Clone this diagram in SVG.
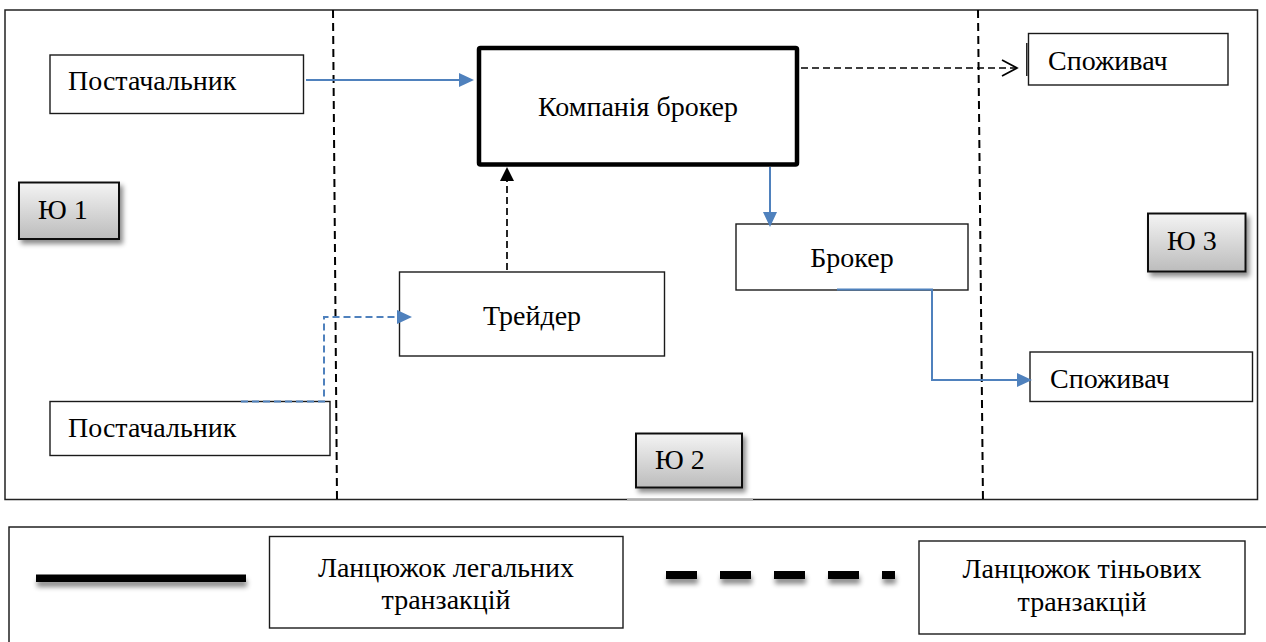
<svg xmlns="http://www.w3.org/2000/svg" width="1266" height="642" viewBox="0 0 1266 642">
<style>
  .t { font-family: "Liberation Serif", "Times New Roman", serif; font-size: 28px; fill: #000; }
  .box { fill: #fff; stroke: #1a1a1a; stroke-width: 1.4; }
  .zone { fill: url(#zoneGrad); stroke: #111; stroke-width: 2; filter: url(#shadow); }
  .sep { fill: none; stroke: #000; stroke-width: 2; stroke-dasharray: 8 5; }
  .legal { fill: none; stroke: #4f81bd; stroke-width: 2; }
  .shadowDash { fill: none; stroke: #4f81bd; stroke-width: 2; stroke-dasharray: 7 4; }
  .blackDash { fill: none; stroke: #000; stroke-width: 1.7; stroke-dasharray: 7 4; }
</style>
<defs>
  <linearGradient id="zoneGrad" x1="0" y1="0" x2="0" y2="1">
    <stop offset="0" stop-color="#f4f4f4"/>
    <stop offset="1" stop-color="#bcbcbc"/>
  </linearGradient>
  <filter id="shadow" x="-20%" y="-20%" width="150%" height="160%">
    <feDropShadow dx="3" dy="4" stdDeviation="2.5" flood-color="#000" flood-opacity="0.45"/>
  </filter>
  <filter id="lineShadow" filterUnits="userSpaceOnUse" x="0" y="540" width="950" height="70">
    <feDropShadow dx="1" dy="5" stdDeviation="2.5" flood-color="#000" flood-opacity="0.45"/>
  </filter>
  <marker id="blueArrow" markerUnits="userSpaceOnUse" markerWidth="16" markerHeight="14" refX="5" refY="7" orient="auto">
    <path d="M0,0 L15,7 L0,14 z" fill="#4f81bd"/>
  </marker>
  <marker id="blackArrow" markerUnits="userSpaceOnUse" markerWidth="16" markerHeight="14" refX="4" refY="7" orient="auto">
    <path d="M0,0 L14,7 L0,14 z" fill="#000"/>
  </marker>
  <marker id="openArrow" markerUnits="userSpaceOnUse" markerWidth="20" markerHeight="20" refX="16" refY="9" orient="auto">
    <path d="M1,1 L16,9 L1,17" fill="none" stroke="#000" stroke-width="1.7"/>
  </marker>
</defs>

<rect x="5" y="10" width="1252.5" height="489.5" fill="#fff" stroke="#222" stroke-width="1.5"/>

<g id="separators">
  <line class="sep" x1="333" y1="10" x2="337" y2="500"/>
  <line class="sep" x1="978" y1="10" x2="983" y2="503"/>
</g>

<g id="supplier1">
  <rect class="box" x="50" y="55" width="253.5" height="58.5"/>
  <text class="t" x="68" y="90">Постачальник</text>
</g>

<g id="broker-company">
  <rect x="479" y="48" width="318" height="116.5" rx="1.5" fill="#fff" stroke="#000" stroke-width="4.5" stroke-linejoin="round"/>
  <text class="t" x="638" y="116" text-anchor="middle">Компанія брокер</text>
</g>

<g id="consumer1">
  <rect class="box" x="1028.5" y="33.5" width="199.5" height="51.5"/>
  <line x1="1026.8" y1="43" x2="1026.8" y2="76" stroke="#000" stroke-width="1.3"/>
  <text class="t" x="1048" y="70">Споживач</text>
</g>

<g id="zone1">
  <rect class="zone" x="19" y="182.5" width="100" height="56.5"/>
  <text class="t" x="38" y="219">Ю 1</text>
</g>

<g id="broker">
  <rect class="box" x="736" y="224" width="232" height="66"/>
  <text class="t" x="852" y="267" text-anchor="middle">Брокер</text>
</g>

<g id="zone3">
  <rect class="zone" x="1148" y="213.5" width="97.5" height="58"/>
  <text class="t" x="1167" y="250">Ю 3</text>
</g>

<g id="trader">
  <rect class="box" x="399.5" y="272" width="265" height="84"/>
  <text class="t" x="532" y="325" text-anchor="middle">Трейдер</text>
</g>

<g id="consumer2">
  <rect class="box" x="1030" y="352" width="222.5" height="49.5"/>
  <text class="t" x="1050" y="388">Споживач</text>
</g>

<g id="supplier2">
  <rect class="box" x="50" y="401.5" width="280" height="54"/>
  <text class="t" x="68" y="437">Постачальник</text>
</g>

<g id="zone2">
  <line x1="627" y1="499.5" x2="753" y2="499.5" stroke="#b0b0b0" stroke-width="2"/>
  <rect class="zone" x="636" y="433.5" width="106" height="54"/>
  <text class="t" x="655" y="469">Ю 2</text>
</g>

<g id="connectors">
  <path class="legal" d="M306,80 H464" marker-end="url(#blueArrow)"/>
  <path class="legal" d="M770,167 V217" marker-end="url(#blueArrow)"/>
  <path class="legal" d="M837,289.5 H932 V380 H1022" marker-end="url(#blueArrow)"/>
  <path class="shadowDash" d="M241,401.5 H324 V317 H402" marker-end="url(#blueArrow)"/>
  <path class="blackDash" d="M507,270 V177" marker-end="url(#blackArrow)"/>
  <path class="blackDash" d="M801,68 H1017" marker-end="url(#openArrow)"/>
</g>

<g id="legend">
  <rect x="9" y="527" width="1300" height="200" fill="#fff" stroke="#111" stroke-width="1.4"/>
  <rect x="36" y="574.5" width="210" height="7.5" fill="#000" filter="url(#lineShadow)"/>
  <g id="legend-legal">
    <rect class="box" x="269.5" y="536.5" width="353.5" height="91.5"/>
    <text class="t" x="446" y="577" text-anchor="middle">Ланцюжок легальних</text>
    <text class="t" x="446" y="609" text-anchor="middle">транзакцій</text>
  </g>
  <g filter="url(#lineShadow)" fill="#000">
    <rect x="666" y="571" width="31" height="8"/>
    <rect x="720" y="571" width="31" height="8"/>
    <rect x="774" y="571" width="31" height="8"/>
    <rect x="828" y="571" width="31" height="8"/>
    <rect x="882" y="571" width="13" height="8"/>
  </g>
  <g id="legend-shadow">
    <rect class="box" x="919" y="541" width="326" height="93"/>
    <text class="t" x="1082" y="578" text-anchor="middle">Ланцюжок тіньових</text>
    <text class="t" x="1082" y="611" text-anchor="middle">транзакцій</text>
  </g>
</g>
</svg>
